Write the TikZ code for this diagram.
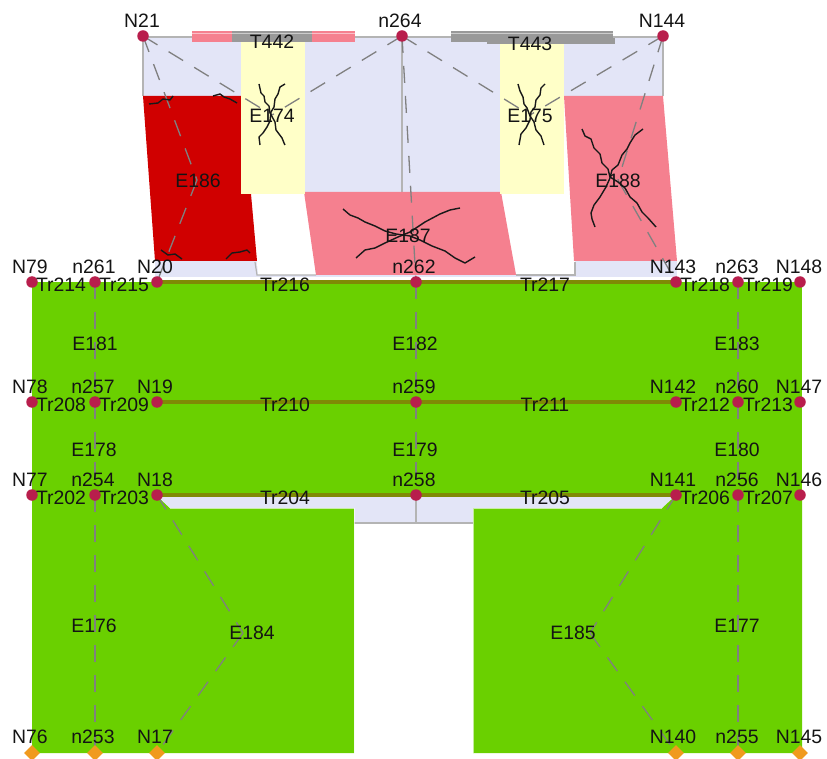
\documentclass[tikz,border=0pt]{standalone}
\usepackage{fontspec}
\usetikzlibrary{shapes.geometric}
\setmainfont{Liberation Sans}
\definecolor{lav}{HTML}{E3E5F7}
\definecolor{grn}{HTML}{6AD000}
\definecolor{beam}{HTML}{7F8A05}
\definecolor{ndr}{HTML}{B81E4C}
\definecolor{ndo}{HTML}{F09A1E}
\definecolor{pinkp}{HTML}{F5808F}
\definecolor{redp}{HTML}{D00000}
\definecolor{yel}{HTML}{FFFFC8}
\definecolor{edgeg}{HTML}{B4B4B4}
\definecolor{dashg}{HTML}{808080}
\definecolor{tg}{HTML}{999999}
\tikzset{
 lbl/.style={font=\fontsize{19.4}{21}\selectfont,text=black!92,inner sep=0pt,anchor=center},
 nodered/.style={circle,fill=ndr,minimum size=11.5pt,inner sep=0pt},
 nodeorg/.style={diamond,fill=ndo,minimum size=16pt,inner sep=0pt},
 diag/.style={dashg,line width=1.3pt,dash pattern=on 17pt off 13pt},
 wall/.style={edgeg,line width=1.6pt},
 crack/.style={black!90,line width=1.4pt,line join=round},
 beamline/.style={beam,line width=4.4pt},
}
\begin{document}
\begin{tikzpicture}[x=1pt,y=-1pt]
\useasboundingbox (0,0) rectangle (827,759);
% coordinates of the joints
\foreach \n/\x/\y in {N79/32/282,n261/95/282,N20/157/282,n262/416/282,N143/676/282,n263/738/282,N148/800/282,
 N78/32/402,n257/95/402,N19/157/402,n259/416/402,N142/676/402,n260/738/402,N147/800/402,
 N77/32/495,n254/95/495,N18/157/495,n258/416/495,N141/676/495,n256/738/495,N146/800/495}
 {\coordinate (\n) at (\x,\y);}
\coordinate (N21) at (143,36);
\coordinate (n264) at (402,36);
\coordinate (N144) at (663,36);
\foreach \n/\x in {N76/32,n253/95,N17/157,N140/676,n255/738,N145/800}
 {\coordinate (\n) at (\x,753);}
\coordinate (e184) at (243,633);
\coordinate (e185) at (590,633);
\coordinate (e186) at (197,180);
\coordinate (e188) at (618,180);
\coordinate (e174) at (272,115);
\coordinate (e175) at (530,115);
% lavender wall
\fill[lav] (143,37) rectangle (663,97);
\fill[lav] (241,96) rectangle (564,194);
\fill[lav] (155,260) rectangle (677,277);
\draw[wall] (143,96) -- (143,37) -- (663,37) -- (663,96);
\draw[wall] (402,37) -- (402,192);
% openings
\fill[white] (251,192) -- (304,192) -- (316,275) -- (258,275) -- cycle;
\fill[white] (502,192) -- (564,192) -- (575,261) -- (575,274) -- (516,274) -- cycle;
\draw[wall,line width=1.2pt] (255,262) -- (257,275) -- (316,275);
\draw[wall,line width=1.2pt] (516,275) -- (575,275) -- (575,262);
% damaged panels
\fill[redp] (143,96) -- (241,96) -- (241,194) -- (251,194) -- (257,261) -- (155,261) -- cycle;
\fill[pinkp] (304,192) -- (501,192) -- (516,275) -- (316,275) -- cycle;
\fill[pinkp] (564,96) -- (663,96) -- (677,261) -- (574,261) -- cycle;
% yellow piers
\fill[yel] (241,42) rectangle (305,194);
\fill[yel] (500,42) rectangle (564,194);
% top beams
\fill[pinkp] (192,31) rectangle (355,42);
\fill[tg] (232,31) rectangle (312,42);
\fill[tg] (451,31) rectangle (613,42);
\fill[tg] (487,38) rectangle (615,44);
\draw[white,opacity=.5,line width=.6pt] (192,33) -- (355,33) (451,33) -- (613,33);
% green frames
\fill[grn] (32,282) rectangle (802,495);
\fill[grn] (32,495) -- (157,495) -- (170,508) -- (354,508) -- (354,753) -- (32,753) -- cycle;
\fill[grn] (802,495) -- (674,495) -- (662,508) -- (473,508) -- (473,753) -- (802,753) -- cycle;
\fill[lav] (158,497) -- (674,497) -- (662,508) -- (170,508) -- cycle;
\fill[lav] (354,508) rectangle (473,523);
\draw[wall] (416,495) -- (416,523);
\draw[wall] (354,523) -- (473,523);
\draw[white,opacity=.6,line width=.8pt] (170,508) -- (354,508) -- (354,753) (473,753) -- (473,508) -- (662,508);
% floor beams
\draw[beamline] (N20) -- (N143);
\draw[beamline] (N19) -- (N142);
\draw[beamline] (N18) -- (N141);
% element diagonals
\draw[diag] (n264) -- (n262);
\draw[diag] (N21) -- (e174);
\draw[diag] (n264) -- (e174);
\draw[diag] (n264) -- (e175);
\draw[diag] (N144) -- (e175);
\draw[diag] (N21) -- (e186);
\draw[diag] (e186) -- (N20);
\draw[diag] (N144) -- (e188);
\draw[diag] (e188) -- (N143);
\draw[diag] (n261) -- (n257);
\draw[diag] (n262) -- (n259);
\draw[diag] (n263) -- (n260);
\draw[diag] (n257) -- (n254);
\draw[diag] (n259) -- (n258);
\draw[diag] (n260) -- (n256);
\draw[diag] (n254) -- (n253);
\draw[diag] (n256) -- (n255);
\draw[diag] (N18) -- (e184);
\draw[diag] (e184) -- (N17);
\draw[diag] (N141) -- (e185);
\draw[diag] (e185) -- (N140);
% cracks
\draw[crack] (259,84) -- (261,93) -- (264,96) -- (265,102) -- (269,106) -- (270,113) -- (275,122) -- (276,130) -- (282,138) -- (284,143) -- (285,145);
\draw[crack] (285,84) -- (280,87) -- (278,94) -- (275,99) -- (274,107) -- (271,112) -- (270,121) -- (267,127) -- (263,133) -- (259,137) -- (260,145);
\draw[crack] (518,84) -- (520,91) -- (523,97) -- (524,104) -- (527,108) -- (530,116) -- (534,122) -- (536,130) -- (541,136) -- (544,145);
\draw[crack] (545,84) -- (541,88) -- (540,95) -- (536,100) -- (535,107) -- (531,112) -- (530,120) -- (526,128) -- (521,134) -- (519,145);
\draw[crack] (582,129) -- (585,136) -- (591,139) -- (594,148) -- (600,154) -- (602,163) -- (608,169) -- (610,177) -- (618,182) -- (625,188) -- (630,197) -- (637,203) -- (642,212) -- (648,218) -- (656,227);
\draw[crack] (643,129) -- (635,135) -- (630,143) -- (627,149) -- (622,155) -- (618,165) -- (612,170) -- (610,178) -- (606,187) -- (600,197) -- (594,205) -- (591,213) -- (592,219) -- (595,227);
\draw[crack] (343,209) -- (350,215) -- (358,218) -- (365,222) -- (375,226) -- (385,231) -- (396,234) -- (410,236) -- (420,240) -- (432,246) -- (445,251) -- (455,258) -- (465,263) -- (475,257);
\draw[crack] (356,258) -- (365,250) -- (375,248) -- (385,243) -- (398,237) -- (410,232) -- (425,222) -- (440,214) -- (450,210) -- (460,208);
\draw[crack] (149,104) -- (158,103) -- (163,99) -- (170,100) -- (173,96);
\draw[crack] (213,96) -- (220,94) -- (224,97) -- (230,99) -- (237,103);
\draw[crack] (161,250) -- (168,255) -- (175,254) -- (182,259);
\draw[crack] (226,259) -- (232,253) -- (240,252) -- (247,250) -- (250,253);
% joints
\foreach \n in {N21,n264,N144,N79,n261,N20,n262,N143,n263,N148,N78,n257,N19,n259,N142,n260,N147,N77,n254,N18,n258,N141,n256,N146}
 {\node[nodered] (d\n) at (\n) {};}
\foreach \n in {N76,n253,N17,N140,n255,N145}
 {\node[nodeorg] (d\n) at (\n) {};}
% labels
\foreach \t/\x/\y in {N21/142/21,n264/400/21,N144/662/21,
 N79/30/267,n261/94/267,N20/155/267,n262/414/267,N143/673/267,n263/737/267,N148/799/267,
 Tr214/61/285,Tr215/124/285,Tr216/285/285,Tr217/545/285,Tr218/705/285,Tr219/768/285,
 E181/95/344,E182/415/344,E183/737/344,
 N78/30/387,n257/93/387,N19/155/387,n259/414/387,N142/673/387,n260/737/387,N147/799/387,
 Tr208/61/405,Tr209/124/405,Tr210/285/405,Tr211/545/405,Tr212/705/405,Tr213/768/405,
 E178/94/450,E179/415/450,E180/737/450,
 N77/30/480,n254/93/480,N18/155/480,n258/414/480,N141/673/480,n256/737/480,N146/799/480,
 Tr202/61/498,Tr203/124/498,Tr204/285/498,Tr205/545/498,Tr206/705/498,Tr207/768/498,
 E176/94/626,E177/737/626,E184/252/633,E185/573/633,
 N76/30/737,n253/93/737,N17/155/737,N140/673/737,n255/737/737,N145/799/737,
 T442/272/42,T443/530/44,E174/272/116,E175/530/116,E186/198/181,E187/408/236,E188/618/181}
 {\node[lbl] (l\t) at (\x,\y) {\t};}
\end{tikzpicture}
\end{document}
